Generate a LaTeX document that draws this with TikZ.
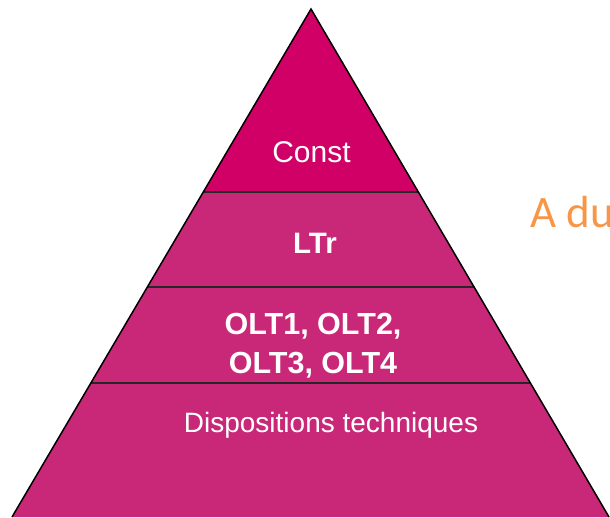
\documentclass[tikz,border=0pt]{standalone}
\usepackage{fontspec}
\setmainfont{Liberation Sans}
\newfontfamily\calibrifont{Carlito}
\usetikzlibrary{calc}
\definecolor{topmagenta}{RGB}{208,0,102}
\definecolor{layermagenta}{RGB}{201,40,120}
\definecolor{noteorange}{RGB}{247,150,70}

\begin{document}
\begin{tikzpicture}[
    x=1pt, y=-1pt,
    level/.style={text=white, inner sep=0pt, anchor=base, font=\fontsize{28}{34}\selectfont},
    divider/.style={draw=black!85, line width=1.8pt},
    ]
    \useasboundingbox (0,0) rectangle (610,517);
    \clip (0,0) rectangle (610,517);

    \coordinate (apex) at (311,9);
    \coordinate (bl) at (12,517);
    \coordinate (br) at (609,517);

    % borders between the levels
    \coordinate (l1) at ($(apex)!0.3602!(bl)$);
    \coordinate (r1) at ($(apex)!0.3602!(br)$);
    \coordinate (l2) at ($(apex)!0.5472!(bl)$);
    \coordinate (r2) at ($(apex)!0.5472!(br)$);
    \coordinate (l3) at ($(apex)!0.7362!(bl)$);
    \coordinate (r3) at ($(apex)!0.7362!(br)$);

    \fill[layermagenta] (l1) -- (bl) -- (br) -- (r1) -- cycle;
    \fill[topmagenta] (apex) -- (l1) -- (r1) -- cycle;

    \draw[divider] (l1) -- (r1);
    \draw[divider] (l2) -- (r2);
    \draw[divider] (l3) -- (r3);
    \draw[line width=1.5pt] (bl) -- (apex) -- (br);

    \node[level, font=\fontsize{30}{36}\selectfont] (const) at (311.5,162) {Const};
    \node[level, font=\bfseries\fontsize{29.5}{34}\selectfont] (ltr) at (315,253) {LTr};
    \node[level, anchor=center, align=center,
          font=\bfseries\fontsize{30.5}{39}\selectfont] (olt) at (313,346) {OLT1, OLT2,\\OLT3, OLT4};
    \node[level] (dispo) at (331,432) {Dispositions techniques};

    \node[anchor=base west, inner sep=0pt, text=noteorange,
          font=\calibrifont\fontsize{45}{54}\selectfont] (note) at (530,227) {A du};
  \end{tikzpicture}
\end{document}
